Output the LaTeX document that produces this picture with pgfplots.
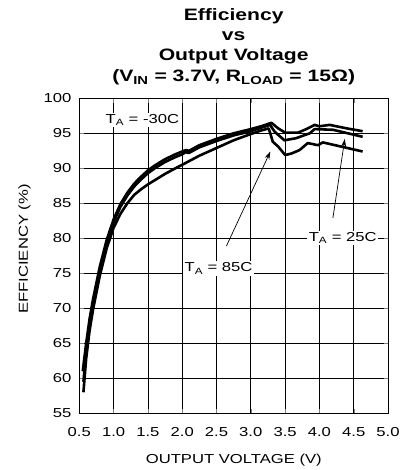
\documentclass[border=0pt]{standalone}
\usepackage{pgfplots}
\pgfplotsset{compat=1.18}
\usepackage{fontspec}
\setmainfont{Liberation Sans}[FakeStretch=1.28]
\usetikzlibrary{arrows.meta}
\newcommand{\lab}{\fontsize{13bp}{15bp}\selectfont}
\begin{document}
\begin{tikzpicture}
\path (-79.3bp,-56.7bp) rectangle (323.7bp,413.3bp);
\begin{axis}[
  at={(0,0)}, anchor=south west,
  scale only axis, width=308.7bp, height=315bp,
  xmin=0.5, xmax=5, ymin=55, ymax=100,
  xtick={0.5,1.0,1.5,2.0,2.5,3.0,3.5,4.0,4.5,5.0},
  ytick={55,60,65,70,75,80,85,90,95,100},
  grid=major,
  grid style={draw=black, line width=0.7bp},
  axis line style={black, line width=0.9bp},
  /pgf/number format/assume math mode=true,
  xticklabel={\pgfmathprintnumber[fixed,fixed zerofill,precision=1]{\tick}},
  xticklabel style={anchor=base, inner sep=0pt, yshift=-23.4bp, font=\lab},
  yticklabel style={anchor=base east, inner sep=0pt, xshift=-7.6bp, yshift=-4.65bp, font=\lab},
]
\addplot[black, line width=2.6bp, line join=round] coordinates {
(0.55,61.0) (0.6,65.0) (0.65,68.5) (0.7,71.3) (0.8,76.0) (0.9,79.8) (1.0,82.7) (1.1,84.9) (1.2,86.5) (1.3,87.8) (1.4,88.8) (1.5,89.7) (1.6,90.4) (1.75,91.3) (1.9,92.0) (2.0,92.4) (2.05,92.6) (2.1,92.5) (2.25,93.3) (2.5,94.2) (2.75,95.0) (3.0,95.6) (3.15,96.0) (3.3,96.5) (3.4,95.7) (3.5,95.1) (3.69,95.1) (3.81,95.6) (3.93,96.2) (4.0,96.0) (4.15,96.2) (4.4,95.7) (4.63,95.3)
};
\addplot[black, line width=2.6bp, line join=round] coordinates {
(0.56,59.5) (0.6,63.8) (0.65,67.6) (0.7,70.6) (0.8,75.5) (0.9,79.4) (1.0,82.3) (1.1,84.5) (1.2,86.1) (1.3,87.4) (1.4,88.4) (1.5,89.3) (1.6,90.0) (1.75,90.9) (1.9,91.6) (2.0,92.0) (2.05,92.3) (2.1,92.2) (2.25,93.0) (2.5,93.9) (2.75,94.7) (3.0,95.3) (3.15,95.8) (3.28,96.2) (3.35,95.2) (3.49,94.0) (3.66,94.3) (3.86,95.0) (3.93,95.6) (4.2,95.5) (4.63,94.5)
};
\addplot[black, line width=2.6bp, line join=round] coordinates {
(0.56,58.0) (0.6,62.8) (0.65,66.8) (0.7,69.8) (0.8,74.7) (0.9,78.6) (1.0,81.5) (1.1,83.5) (1.2,85.0) (1.3,86.2) (1.4,87.0) (1.5,87.7) (1.6,88.3) (1.75,89.2) (1.9,90.0) (2.0,90.5) (2.25,91.8) (2.5,92.9) (2.75,94.0) (3.0,94.9) (3.15,95.4) (3.26,95.7) (3.29,94.8) (3.32,93.8) (3.40,93.1) (3.50,91.9) (3.59,92.1) (3.71,92.6) (3.83,93.6) (3.98,93.3) (4.05,93.7) (4.63,92.4)
};
\node[fill=white, inner sep=1.5bp, anchor=base, font=\lab] at (axis cs:1.42,96.43) {T\textsubscript{A} = -30C};
\node[fill=white, inner sep=1.5bp, anchor=base, font=\lab] at (axis cs:2.53,75.2) {T\textsubscript{A} = 85C};
\node[fill=white, inner sep=1.5bp, anchor=base, font=\lab] at (axis cs:4.34,79.5) {T\textsubscript{A} = 25C};
\draw[-{Stealth[length=8bp,width=5bp]}, line width=0.7bp] (axis cs:2.645,78.9) -- (axis cs:3.285,92.4);
\draw[-{Stealth[length=8bp,width=5bp]}, line width=0.7bp] (axis cs:4.197,82.9) -- (axis cs:4.37,94.2);
\end{axis}
\node[anchor=base, font=\bfseries\fontsize{16.5bp}{20bp}\selectfont] at (154.4bp,392.3bp) {Efficiency};
\node[anchor=base, font=\bfseries\fontsize{16.5bp}{20bp}\selectfont] at (154.4bp,372.8bp) {vs};
\node[anchor=base, font=\bfseries\fontsize{16.5bp}{20bp}\selectfont] at (154.4bp,352.3bp) {Output Voltage};
\node[anchor=base, font=\bfseries\fontsize{16.5bp}{20bp}\selectfont] at (154.4bp,331.8bp) {(V\textsubscript{IN} = 3.7V, R\textsubscript{LOAD} = 15Ω)};
\node[anchor=base, font=\lab] at (154.5bp,-50bp) {OUTPUT VOLTAGE (V)};
\node[rotate=90, anchor=base, font=\lab] at (-51.3bp,164.3bp) {EFFICIENCY (\%)};
\end{tikzpicture}
\end{document}
